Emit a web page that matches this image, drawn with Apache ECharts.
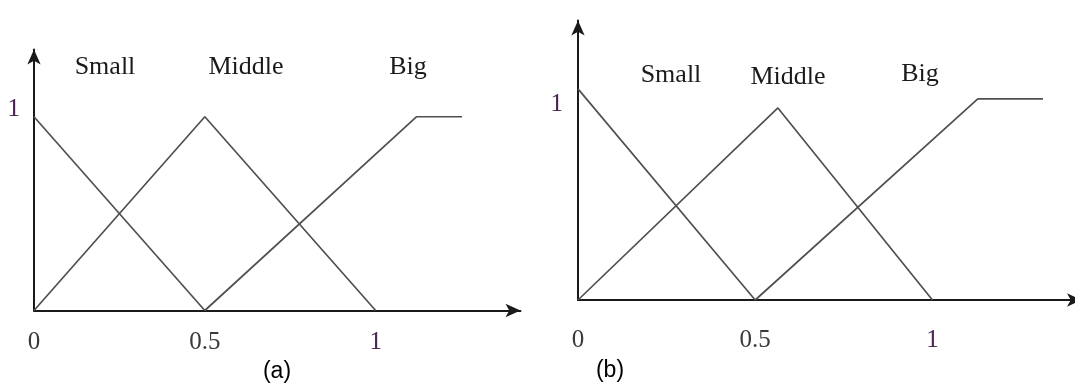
<!DOCTYPE html>
<html>
<head>
<meta charset="utf-8">
<script src="https://cdn.jsdelivr.net/npm/echarts@6/dist/echarts.min.js"></script>
<style>
  html, body { margin: 0; padding: 0; background: #ffffff; }
  #chart { width: 1075px; height: 387px; }
</style>
</head>
<body>
<div id="chart"></div>
<script>
// Fuzzy membership sets
const setNames = ['Small', 'Middle', 'Big'];
const captions = ['(a)', '(b)'];
const xTickValues = [0, 0.5, 1];
const yTickValues = [1];

// Panel (a): symmetric triangles
const smallA  = [[0, 1], [0.5, 0]];
const middleA = [[0, 0], [0.5, 1], [1, 0]];
const bigA    = [[0.5, 0], [1.12, 1], [1.253, 1]];

// Panel (b): shifted middle set
const smallB  = [[0, 1.05], [0.5, 0]];
const middleB = [[0, 0], [0.564, 0.955], [1, 0]];
const bigB    = [[0.5, 0], [1.128, 1], [1.312, 1]];

const SERIF = '"Liberation Serif", "Times New Roman", serif';
const SANS = '"Liberation Sans", Arial, sans-serif';
const AXIS_COLOR = '#1a1a1a';
const CURVE_COLOR = '#505050';

function makeRich(yLineHeight) {
  return {
    d:   { color: '#3a3a3a', fontFamily: SERIF, fontSize: 25, lineHeight: 24 },
    one: { color: '#4a2452', fontFamily: SERIF, fontSize: 25, lineHeight: yLineHeight }
  };
}
function tickFormatter(v) {
  return v === 1 ? '{one|1}' : '{d|' + v + '}';
}

function xAxisFor(gridIndex, max, margin) {
  return {
    type: 'value', gridIndex, min: 0, max,
    axisLine: { show: true, onZero: false, symbol: ['none', 'arrow'], symbolSize: [10, 15],
                lineStyle: { color: AXIS_COLOR, width: 2 } },
    axisTick: { show: false },
    splitLine: { show: false },
    axisLabel: { customValues: xTickValues, margin, formatter: tickFormatter, rich: makeRich(24) }
  };
}
function yAxisFor(gridIndex, max, margin, vAlign, lh) {
  return {
    type: 'value', gridIndex, min: 0, max,
    axisLine: { show: true, onZero: false, symbol: ['none', 'arrow'], symbolSize: [10, 15],
                lineStyle: { color: AXIS_COLOR, width: 2 } },
    axisTick: { show: false },
    splitLine: { show: false },
    axisLabel: { customValues: yTickValues, margin, verticalAlign: vAlign,
                 formatter: tickFormatter, rich: makeRich(lh) }
  };
}
function curve(data, idx) {
  return {
    type: 'line', data, xAxisIndex: idx, yAxisIndex: idx,
    showSymbol: false, symbol: 'none', silent: true,
    lineStyle: { color: CURVE_COLOR, width: 1.7 }
  };
}
function word(text, x, y) {
  return { type: 'text', x, y, silent: true,
    style: { text, fill: '#1a1a1a', font: '26px ' + SERIF, textAlign: 'center', textVerticalAlign: 'middle' } };
}
function caption(text, x, y) {
  return { type: 'text', x, y, silent: true,
    style: { text, fill: '#000000', font: '23px ' + SANS, textAlign: 'center', textVerticalAlign: 'middle' } };
}

const chart = echarts.init(document.getElementById('chart'), null, { renderer: 'canvas' });
chart.setOption({
  animation: false,
  backgroundColor: '#ffffff',
  grid: [
    { left: 34, top: 49.5, width: 486.5, height: 261, outerBoundsMode: 'none' },
    { left: 578, top: 20.5, width: 504, height: 279.5, outerBoundsMode: 'none' }
  ],
  xAxis: [xAxisFor(0, 1.424, 20), xAxisFor(1, 1.422, 28)],
  yAxis: [yAxisFor(0, 1.347, 14, 'bottom', 14), yAxisFor(1, 1.39, 15, 'top', 11)],
  series: [
    curve(smallA, 0), curve(middleA, 0), curve(bigA, 0),
    curve(smallB, 1), curve(middleB, 1), curve(bigB, 1)
  ],
  graphic: [
    word(setNames[0], 105, 67), word(setNames[1], 246, 67), word(setNames[2], 408, 67),
    word(setNames[0], 671, 75), word(setNames[1], 788, 77), word(setNames[2], 920, 74),
    caption(captions[0], 277, 372), caption(captions[1], 610, 371)
  ]
});
</script>
</body>
</html>
